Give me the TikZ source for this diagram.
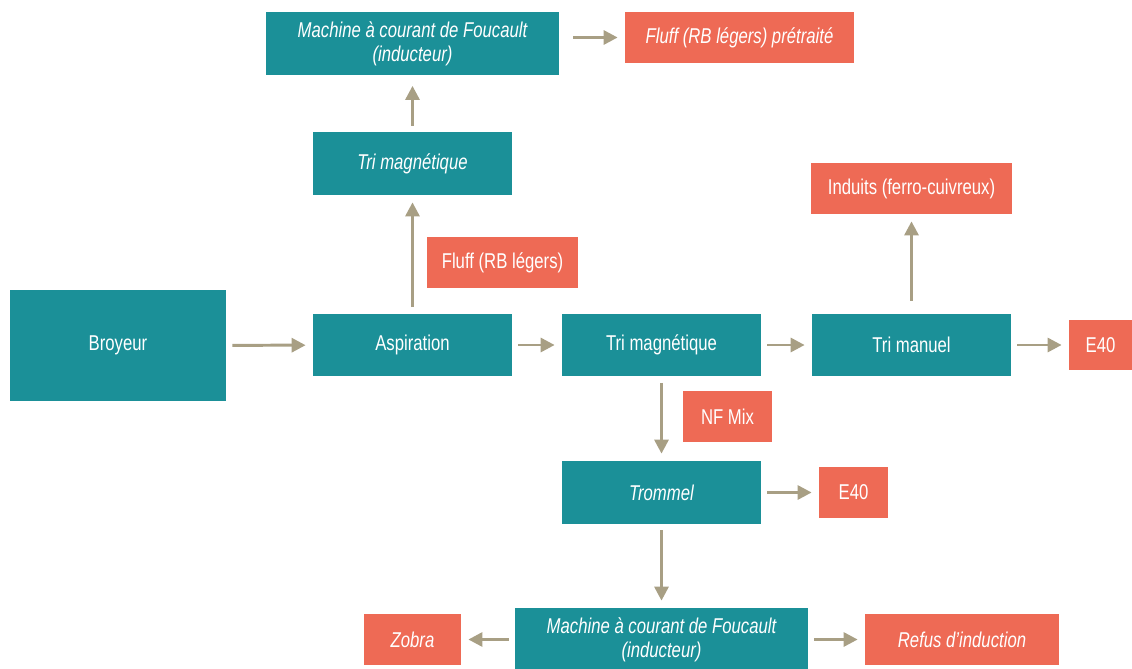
\documentclass[tikz,border=0pt]{standalone}
\usepackage{fontspec}
\setmainfont{Liberation Sans}[FakeStretch=0.78]
\usetikzlibrary{arrows.meta,positioning,calc}
\definecolor{procteal}{RGB}{27,144,152}
\definecolor{prodorange}{RGB}{238,106,85}
\definecolor{flowtan}{RGB}{168,159,132}

\tikzset{
  proc/.style={fill=procteal,text=white,inner sep=0pt,minimum width=3.98cm,minimum height=1.26cm,align=center,font=\fontsize{12.2}{13.8}\selectfont},
  prod/.style={fill=prodorange,text=white,inner sep=0pt,minimum height=1.02cm,align=center,font=\fontsize{12.2}{13.8}\selectfont},
  flow/.style={draw=flowtan,line width=1.7pt,-{Triangle[length=8pt,width=8pt]},shorten <=3.4pt,shorten >=4pt}
}

\begin{document}
\begin{tikzpicture}[x=0.02cm,y=-0.02cm]
\useasboundingbox (0,0) rectangle (1132,669);
% main line
\node[proc,minimum width=4.32cm,minimum height=2.22cm] (broyeur) at (118,345.5) {Broyeur};
\node[proc] (aspi) at (412.5,345) {Aspiration};
\node[proc] (trimag) at (661.5,345) {Tri magnétique};
\node[proc] (trimanuel) at (911.5,345) {Tri manuel};
\node[prod,minimum width=1.26cm,minimum height=1.0cm] (eright) at (1100.5,345) {E40};
% upper branch
\node[prod,minimum width=3.02cm] (fluff) at (502.5,262.5) {Fluff (RB légers)};
\node[proc] (trimagup) at (412.5,163.5) {\itshape Tri magnétique};
\node[proc,minimum width=5.86cm] (fouc) at (412.5,43.5) {\itshape Machine à courant de Foucault\\\itshape (inducteur)};
\node[prod,minimum width=4.58cm] (fluffpt) at (739.5,37.5) {\itshape Fluff (RB légers) prétraité};
\node[prod,minimum width=4.04cm] (induits) at (911.5,188.5) {Induits (ferro-cuivreux)};
% lower branch
\node[prod,minimum width=1.78cm] (nfmix) at (727.5,416.5) {NF Mix};
\node[proc] (trommel) at (661.5,492.5) {\itshape Trommel};
\node[prod,minimum width=1.38cm] (emid) at (853.5,492.5) {E40};
\node[proc,minimum width=5.86cm] (foucbas) at (661.5,639.5) {\itshape Machine à courant de Foucault\\\itshape (inducteur)};
\node[prod,minimum width=1.94cm] (zobra) at (412.5,639.5) {\itshape Zobra};
\node[prod,minimum width=3.88cm] (refus) at (962,639.5) {\itshape Refus d’induction};

\draw[flow] (broyeur) -- (aspi);
\draw[flow] (aspi) -- (trimag);
\draw[flow] (trimag) -- (trimanuel);
\draw[flow] (trimanuel) -- (eright);
\draw[flow] (aspi) -- (trimagup);
\draw[flow,shorten >=6pt] (trimagup) -- (fouc);
\draw[flow,shorten <=8pt] (fouc.east |- fluffpt.west) -- (fluffpt);
\draw[flow,shorten <=7pt] (trimanuel) -- (induits);
\draw[flow] (trimag) -- (trommel);
\draw[flow] (trommel) -- (emid);
\draw[flow] (trommel) -- (foucbas);
\draw[flow] (foucbas) -- (zobra);
\draw[flow] (foucbas) -- (refus);
\end{tikzpicture}
\end{document}
